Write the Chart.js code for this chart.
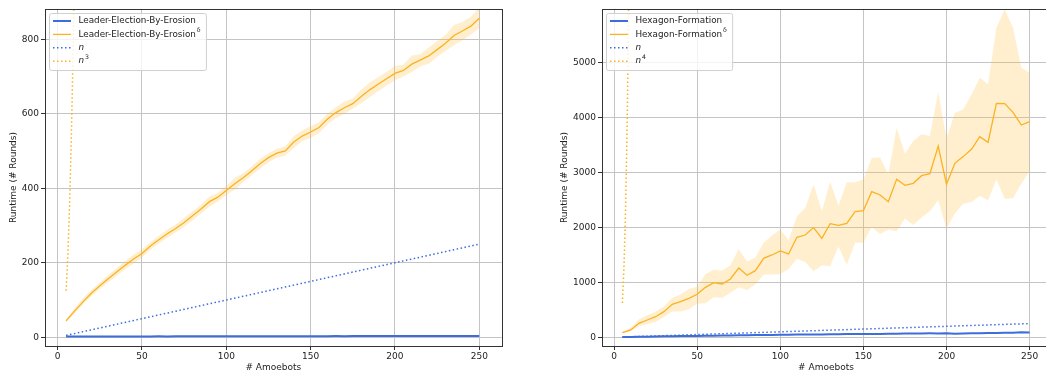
<!DOCTYPE html>
<html>
<head>
<meta charset="utf-8">
<script src="https://cdn.jsdelivr.net/npm/chart.js@4.4.1/dist/chart.umd.min.js"></script>
<style>
  html, body { margin: 0; padding: 0; background: #fff; overflow: hidden; }
  #wrap { position: relative; width: 1046px; height: 374px; overflow: hidden; }
  .box { position: absolute; top: 0; height: 374px; }
  #leftBox { left: 0; width: 520px; }
  #rightBox { left: 520px; width: 530px; }
</style>
</head>
<body>
<div id="wrap">
  <div class="box" id="leftBox"><canvas id="leaderChart" width="520" height="374"></canvas></div>
  <div class="box" id="rightBox"><canvas id="hexChart" width="530" height="374"></canvas></div>
</div>
<script>
// x values: number of amoebots
const amoebots = [5,10,15,20,25,30,35,40,45,50,55,60,65,70,75,80,85,90,95,100,
  105,110,115,120,125,130,135,140,145,150,155,160,165,170,175,180,185,190,195,200,
  205,210,215,220,225,230,235,240,245,250];

// left: Leader-Election-By-Erosion
const leaderRuntime = [2.0,2.1,2.1,2.2,2.2,2.3,2.3,2.2,2.4,2.4,2.4,2.5,2.4,2.5,2.6,2.6,2.5,2.7,2.7,2.7,
  2.8,2.8,2.9,2.9,2.8,2.9,3.0,3.0,3.1,3.0,3.1,3.1,3.2,3.1,3.2,3.2,3.3,3.2,3.3,3.3,
  3.3,3.4,3.3,3.4,3.4,3.5,3.4,3.5,3.5,3.6];
const leaderDeltaRuntime = [44,70,95,118,138,157,175,193,210,225, 245,262,278,292,308,326,344,364,376,394,
  412,428,446,466,482,494,500,524,540,551, 563,586,603,616,627,646,664,679,694,708,
  716,733,744,755,772,789,810,822,835,856];
const leaderDeltaUpper = [48,78,104,127,147,167,186,205,222,236, 255,272,289,303,320,338,356,378,388,406,
  428,440,458,479,494,506,512,540,555,567, 577,600,617,633,641,664,684,698,712,728,
  732,756,760,778,795,811,838,846,860,885];
const leaderDeltaLower = [40,64,88,110,130,148,165,182,198,214, 235,252,267,281,296,314,332,350,364,382,
  396,416,434,452,470,482,488,508,526,535, 548,572,588,599,613,628,644,660,676,690,
  700,712,727,734,752,768,784,797,812,830];

// right: Hexagon-Formation
const hexRuntime = [4,7,9,12,14,17,19,22,24,26, 28,30,32,34,36,38,40,42,44,46,
  47,49,50,52,53,55,56,58,59,62, 58,61,63,66,68,67,70,72,71,74,
  66,68,73,76,78,80,82,84,92,88];
const hexDeltaRuntime = [85,133,255,315,375,467,600,648,709,782, 909,994,970,1060,1260,1127,1212,1436,1497,1570,
  1515,1818,1860,1994,1800,2066,2036,2072,2285,2303, 2648,2588,2466,2872,2763,2800,2939,2975,3478,2781,
  3163,3285,3418,3648,3545,4254,4248,4090,3860,3920];
const hexDeltaUpper = [100,170,330,400,470,560,720,780,880,920, 1150,1230,1210,1310,1600,1380,1450,1720,1850,1960,
  1770,2200,2350,2780,2290,2830,2390,2820,2820,2870, 3260,3270,2960,3810,3340,3570,3690,3660,4460,3620,
  4080,4140,4410,4720,4600,5630,5960,5630,4900,4810];
const hexDeltaLower = [70,110,200,240,280,370,470,470,510,610, 620,730,720,810,910,860,960,1140,1140,1150,
  1240,1430,1370,1200,1310,1290,1650,1320,1720,1720, 2010,1880,1960,1930,2160,2040,2180,2290,2490,1980,
  2250,2430,2460,2570,2490,2870,2520,2530,2790,3020];

// reference curves
const linearX = [5, 250];
const linearY = [5, 250];
const powerX = [5, 6, 7, 8, 9, 10];
const cubeY = [125, 216, 343, 512, 729, 1000];
const quartY = [625, 1296, 2401, 4096, 6561, 10000];

// axis ticks
const xTicks = [0, 50, 100, 150, 200, 250];
const leaderYTicks = [0, 200, 400, 600, 800];
const hexYTicks = [0, 1000, 2000, 3000, 4000, 5000];

const leaderLegend = [
  { text: 'Leader-Election-By-Erosion', sup: '' },
  { text: 'Leader-Election-By-Erosion', sup: 'δ' },
  { text: 'n', sup: '', math: true },
  { text: 'n', sup: '3', math: true },
];
const hexLegend = [
  { text: 'Hexagon-Formation', sup: '' },
  { text: 'Hexagon-Formation', sup: 'δ' },
  { text: 'n', sup: '', math: true },
  { text: 'n', sup: '4', math: true },
];

const BLUE = 'rgb(61,108,219)';
const ORANGE = 'rgb(252,178,32)';
const BAND = 'rgba(255,190,60,0.25)';
const FONT = '"DejaVu Sans", sans-serif';

const pts = (xs, ys) => xs.map((x, i) => ({ x, y: ys[i] }));

const framePlugin = {
  id: 'frame',
  afterDatasetsDraw(chart) {
    const { ctx, chartArea: a } = chart;
    ctx.save();
    ctx.strokeStyle = '#333';
    ctx.lineWidth = 1;
    ctx.strokeRect(Math.round(a.left) + 0.5, Math.round(a.top) + 0.5,
      Math.round(a.right - a.left), Math.round(a.bottom - a.top));
    ctx.restore();
  }
};

const boxLegend = {
  id: 'boxLegend',
  afterDraw(chart, args, opts) {
    const entries = opts.entries;
    if (!entries) return;
    const ctx = chart.ctx, a = chart.chartArea;
    const base = '8.8px ' + FONT, ital = 'italic 8.8px ' + FONT, small = '6.2px ' + FONT;
    ctx.save();
    let maxW = 0;
    entries.forEach(e => {
      ctx.font = e.math ? ital : base;
      let w = ctx.measureText(e.text).width;
      if (e.sup) { ctx.font = small; w += ctx.measureText(e.sup).width + 0.8; }
      maxW = Math.max(maxW, w);
    });
    const x0 = a.left + 4.5, y0 = a.top + 4.5;
    const w = 29 + maxW + 6, h = 57;
    ctx.beginPath();
    if (ctx.roundRect) ctx.roundRect(x0, y0, w, h, 2); else ctx.rect(x0, y0, w, h);
    ctx.fillStyle = 'rgba(255,255,255,0.8)';
    ctx.fill();
    ctx.strokeStyle = '#d0d0d0';
    ctx.lineWidth = 1;
    ctx.stroke();
    entries.forEach((e, i) => {
      const ds = chart.data.datasets[i];
      const y = y0 + 7.5 + i * 13.4;
      ctx.strokeStyle = ds.borderColor;
      ctx.lineWidth = ds.borderWidth;
      ctx.setLineDash(ds.borderDash || []);
      ctx.beginPath();
      ctx.moveTo(x0 + 3.5, y);
      ctx.lineTo(x0 + 21.5, y);
      ctx.stroke();
      ctx.setLineDash([]);
      ctx.fillStyle = '#222';
      ctx.textBaseline = 'middle';
      ctx.font = e.math ? ital : base;
      ctx.fillText(e.text, x0 + 29, y);
      if (e.sup) {
        const tw = ctx.measureText(e.text).width;
        ctx.font = small;
        ctx.fillText(e.sup, x0 + 29 + tw + 0.8, y - 3.8);
      }
    });
    ctx.restore();
  }
};

function axisCommon(ticks, title, fit) {
  return {
    type: 'linear',
    afterBuildTicks: s => { s.ticks = ticks.map(v => ({ value: v })); },
    afterFit: fit,
    border: { display: false },
    grid: { color: '#c4c4c4', lineWidth: 1, tickLength: 4, tickColor: '#333' },
    ticks: {
      font: { family: FONT, size: 9 }, color: '#222', autoSkip: false, maxRotation: 0,
      callback: v => String(v)
    },
    title: { display: true, text: title, font: { family: FONT, size: 9 }, color: '#222' }
  };
}

function makeChart(id, cfg) {
  const x = axisCommon(xTicks, '# Amoebots', s => { s.height = 28; });
  x.min = cfg.xMin; x.max = cfg.xMax;
  x.ticks.padding = 1;
  x.title.padding = 1;
  const y = axisCommon(cfg.yTicks, 'Runtime (# Rounds)', s => { s.width = cfg.yWidth; });
  y.min = cfg.yMin; y.max = cfg.yMax;
  y.ticks.padding = 2;
  y.title.padding = 8.5;

  return new Chart(document.getElementById(id), {
    type: 'line',
    data: {
      datasets: [
        { data: pts(amoebots, cfg.runtime), borderColor: BLUE, borderWidth: 2, pointRadius: 0, order: 1 },
        { data: pts(amoebots, cfg.delta), borderColor: ORANGE, borderWidth: 1.3, pointRadius: 0, order: 2 },
        { data: pts(linearX, linearY), borderColor: BLUE, borderWidth: 1.5, borderDash: [1.5, 2.5], pointRadius: 0, order: 3 },
        { data: pts(powerX, cfg.power), borderColor: ORANGE, borderWidth: 1.5, borderDash: [1.5, 2.5], pointRadius: 0, order: 3 },
        { data: pts(amoebots, cfg.upper), borderWidth: 0, backgroundColor: BAND, fill: '+1', pointRadius: 0, order: 9 },
        { data: pts(amoebots, cfg.lower), borderWidth: 0, fill: false, pointRadius: 0, order: 9 },
      ]
    },
    options: {
      responsive: false,
      animation: false,
      devicePixelRatio: 1,
      layout: { padding: cfg.padding },
      scales: { x, y },
      plugins: {
        legend: { display: false },
        tooltip: { enabled: false },
        boxLegend: { entries: cfg.legend }
      }
    },
    plugins: [framePlugin, boxLegend]
  });
}

makeChart('leaderChart', {
  runtime: leaderRuntime, delta: leaderDeltaRuntime, upper: leaderDeltaUpper, lower: leaderDeltaLower,
  power: cubeY, yTicks: leaderYTicks, legend: leaderLegend,
  xMin: -7.5, xMax: 263.3, yMin: -23.4, yMax: 881,
  yWidth: 45, padding: { left: 0, right: 18.3, top: 9, bottom: 0 }
});

makeChart('hexChart', {
  runtime: hexRuntime, delta: hexDeltaRuntime, upper: hexDeltaUpper, lower: hexDeltaLower,
  power: quartY, yTicks: hexYTicks, legend: hexLegend,
  xMin: -7.25, xMax: 262.25, yMin: -158, yMax: 5969,
  yWidth: 51, padding: { left: 31, right: 0, top: 9, bottom: 0 }
});
</script>
</body>
</html>
